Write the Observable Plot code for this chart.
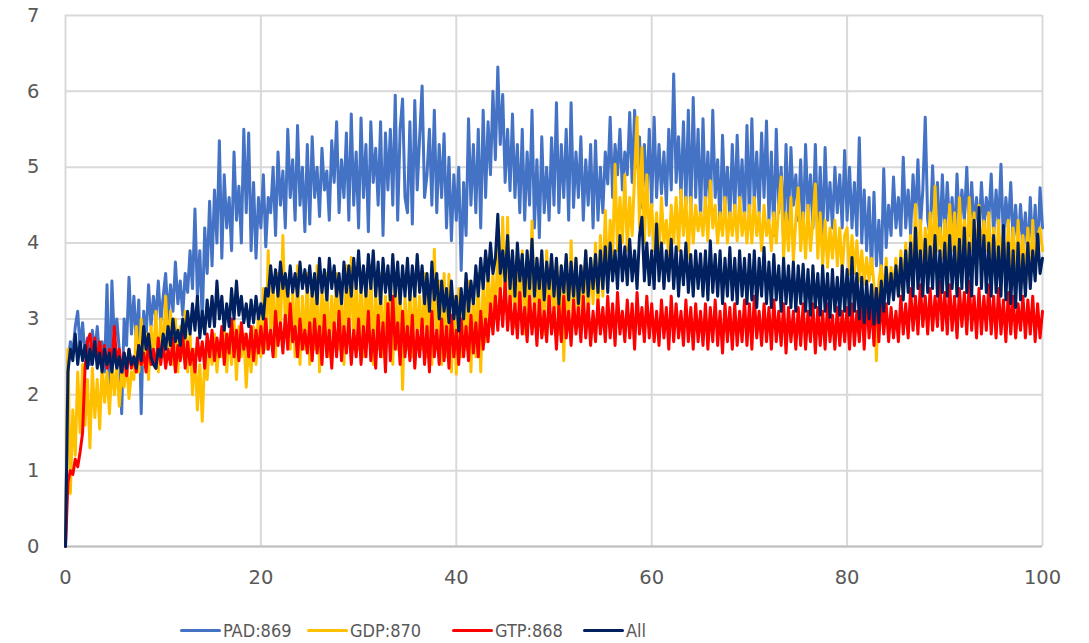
<!DOCTYPE html>
<html>
<head>
<meta charset="utf-8">
<script src="https://cdn.jsdelivr.net/npm/d3@7"></script>
<script src="https://cdn.jsdelivr.net/npm/@observablehq/plot@0.6"></script>
<style>
  html, body { margin: 0; padding: 0; background: #fff; }
  #wrap { position: relative; width: 1089px; height: 643px; }
  .leg { position: absolute; top: 618px; height: 24px; display: flex; align-items: center;
         font-family: "DejaVu Sans Condensed", "DejaVu Sans", sans-serif; font-stretch: condensed;
         font-size: 18px; color: #595959; white-space: nowrap; }
  .leg .sw { width: 41px; height: 3px; border-radius: 2px; margin-right: 2px; }
</style>
</head>
<body>
<div id="wrap"></div>
<script>
// ---- data: samples every 0.25 units of x (0..100) ----
const seriesNames = ["PAD:869", "GDP:870", "GTP:868", "All"];
const seriesColors = ["#4472C4", "#FFC000", "#FF0000", "#002060"];
const xTicks = [0, 20, 40, 60, 80, 100];
const yTicks = [0, 1, 2, 3, 4, 5, 6, 7];

const pad = [
0, 2.45, 2.7, 2.55, 2.9, 3.1, 2.6, 2.95, 2.5, 2.75, 2.4, 2.85, 2.55, 2.9, 2.45, 2.7, 2.3, 3.45, 2.0, 3.5,
2.7, 3.0, 2.6, 1.75, 3.0, 2.65, 3.55, 2.8, 3.3, 2.7, 3.25, 1.75, 3.1, 2.75, 3.45, 2.9, 3.3, 3.0, 3.5, 2.95,
3.3, 3.6, 3.0, 3.45, 3.1, 3.75, 3.2, 3.5, 3.05, 3.6, 3.35, 3.9, 3.4, 4.45, 3.3, 3.9, 2.95, 4.2, 3.6, 4.55,
3.7, 4.7, 4.0, 5.35, 3.8, 4.9, 4.2, 4.6, 3.9, 5.2, 4.3, 4.75, 4.0, 5.5, 4.4, 5.45, 3.9, 4.8, 3.8, 4.6,
4.2, 4.9, 3.95, 4.6, 4.4, 5.0, 4.1, 5.2, 4.5, 4.95, 4.2, 5.5, 4.6, 5.1, 4.3, 5.55, 4.5, 5.0, 4.15, 5.3,
4.25, 5.4, 4.6, 5.0, 4.35, 5.25, 4.7, 4.95, 4.3, 5.35, 4.8, 5.6, 4.4, 5.1, 4.6, 5.45, 4.3, 5.7, 4.5, 5.2,
4.2, 5.65, 4.6, 5.3, 4.15, 5.6, 4.8, 5.25, 4.5, 5.6, 4.1, 5.45, 4.7, 5.5, 4.5, 5.95, 4.3, 5.5, 5.9, 4.6,
4.4, 5.6, 4.25, 5.88, 4.7, 5.4, 6.07, 4.6, 4.9, 5.5, 4.5, 5.75, 4.4, 5.3, 4.6, 5.44, 4.2, 5.13, 4.03, 4.9,
4.3, 5.0, 3.64, 4.8, 4.1, 5.64, 4.5, 5.3, 4.4, 5.5, 4.2, 5.75, 4.6, 5.6, 4.9, 6.0, 5.1, 6.32, 5.3, 5.96,
4.8, 5.5, 4.69, 5.7, 4.6, 5.3, 4.4, 5.5, 4.3, 5.2, 4.5, 5.75, 4.2, 5.1, 4.07, 5.4, 4.4, 5.0, 4.3, 5.39,
4.5, 5.85, 4.4, 5.3, 4.6, 5.5, 4.3, 5.85, 4.47, 5.2, 4.6, 5.4, 4.3, 5.1, 4.5, 5.3, 4.2, 5.35, 4.3, 5.0,
4.4, 5.2, 4.78, 5.66, 4.6, 5.3, 4.9, 5.5, 4.7, 5.2, 4.9, 5.72, 4.8, 5.75, 5.0, 5.4, 4.47, 5.3, 4.6, 5.5,
4.47, 5.66, 4.6, 5.3, 4.65, 5.2, 4.5, 5.5, 4.7, 6.23, 4.8, 5.4, 4.6, 5.6, 4.5, 5.75, 4.34, 5.92, 4.6, 5.5,
4.3, 5.64, 4.5, 5.2, 4.4, 5.75, 4.6, 5.1, 4.2, 5.42, 4.5, 5.0, 4.3, 5.3, 4.4, 5.42, 4.5, 5.1, 4.3, 5.55,
4.3, 5.64, 4.5, 5.2, 4.4, 5.45, 4.6, 5.61, 4.3, 5.2, 4.1, 5.5, 4.4, 5.0, 4.07, 5.3, 4.3, 5.26, 4.5, 4.9,
4.3, 5.1, 4.1, 5.3, 4.4, 4.9, 4.2, 5.3, 4.1, 5.0, 4.07, 5.26, 4.3, 4.8, 4.2, 5.0, 4.4, 4.9, 4.2, 5.22,
4.3, 5.0, 4.2, 4.8, 4.1, 5.39, 4.0, 4.7, 3.9, 4.6, 3.6, 4.67, 3.7, 4.3, 3.6, 4.98, 3.94, 4.5, 4.1, 4.87,
4.2, 4.6, 4.1, 5.13, 4.2, 4.7, 4.12, 4.9, 4.3, 5.1, 4.2, 4.7, 5.66, 4.3, 4.1, 5.02, 4.2, 4.8, 4.0, 4.9,
4.1, 4.8, 4.2, 4.6, 4.0, 4.91, 4.2, 4.7, 4.3, 5.0, 4.1, 4.8, 4.2, 4.6, 4.1, 4.8, 4.2, 4.6, 4.3, 4.91,
4.1, 4.7, 4.2, 5.04, 4.0, 4.6, 4.2, 4.8, 4.0, 4.5, 3.9, 4.51, 4.0, 4.4, 3.81, 4.6, 3.9, 4.5, 3.8, 4.73,
4.2];

const gdp = [
0, 2.6, 0.7, 1.8, 1.2, 2.3, 1.5, 2.4, 1.6, 2.2, 1.3, 2.35, 1.7, 2.2, 1.55, 2.4, 1.9, 2.3, 1.75, 2.4,
2.0, 2.4, 1.85, 2.3, 2.1, 2.45, 1.95, 2.3, 2.2, 2.9, 2.3, 3.0, 2.4, 2.8, 2.2, 2.9, 2.5, 3.1, 2.3, 3.0,
2.5, 3.3, 2.6, 3.1, 2.4, 3.0, 2.3, 2.9, 2.5, 3.1, 2.3, 2.8, 2.0, 2.6, 1.8, 2.4, 1.65, 2.5, 2.2, 2.7,
2.4, 2.8, 2.3, 2.7, 2.5, 2.9, 2.3, 2.8, 2.4, 3.0, 2.2, 2.9, 2.5, 2.8, 2.1, 2.7, 2.3, 2.9, 2.4, 3.1,
2.5, 3.4, 2.6, 3.9, 2.7, 3.5, 2.5, 3.6, 2.8, 4.1, 2.9, 3.5, 2.6, 3.4, 2.5, 3.7, 2.4, 3.3, 2.6, 3.6,
2.4, 3.5, 2.6, 3.7, 2.3, 3.4, 2.7, 3.6, 2.5, 3.3, 2.8, 3.6, 2.6, 3.4, 2.4, 3.7, 2.7, 3.81, 2.6, 3.5,
2.6, 3.6, 2.5, 3.5, 2.7, 3.7, 2.4, 3.4, 2.6, 3.6, 2.5, 3.3, 2.7, 3.5, 2.4, 3.6, 2.6, 3.4, 2.07, 3.3,
2.6, 3.4, 2.5, 3.5, 2.7, 3.3, 2.6, 3.6, 2.5, 3.4, 2.4, 3.92, 2.6, 3.5, 2.4, 3.6, 2.5, 3.59, 2.3, 3.3,
2.27, 3.4, 2.5, 3.3, 2.6, 3.5, 2.3, 3.4, 2.5, 3.6, 2.3, 3.5, 2.7, 3.8, 2.9, 3.59, 3.0, 4.0, 3.2, 4.34,
3.1, 4.34, 3.0, 3.9, 2.9, 3.8, 3.0, 3.9, 2.8, 3.7, 3.0, 4.29, 2.9, 3.8, 3.0, 3.7, 2.8, 3.9, 3.0, 3.8,
2.9, 3.8, 2.8, 3.7, 2.45, 3.6, 2.9, 4.03, 3.0, 3.8, 2.9, 3.7, 3.1, 3.9, 3.0, 3.8, 3.2, 4.0, 3.1, 4.1,
3.3, 4.43, 3.5, 4.3, 3.8, 5.04, 3.9, 4.6, 4.0, 4.9, 3.9, 4.6, 4.1, 4.9, 5.66, 4.2, 5.26, 4.0, 4.9, 4.1,
4.51, 3.9, 4.4, 3.8, 4.6, 4.0, 4.3, 3.8, 4.5, 4.0, 4.6, 3.9, 4.7, 4.1, 4.6, 3.8, 4.6, 4.0, 4.5, 4.16,
4.4, 4.1, 4.6, 4.03, 4.82, 4.2, 4.5, 4.0, 4.4, 4.1, 4.6, 4.0, 4.4, 4.1, 4.5, 4.03, 4.6, 4.1, 4.4, 4.0,
4.5, 4.0, 4.6, 4.1, 4.4, 3.9, 4.5, 4.1, 4.3, 3.9, 4.4, 4.0, 4.5, 4.87, 3.8, 4.4, 3.9, 4.6, 3.77, 4.3,
4.73, 3.9, 4.4, 3.8, 4.5, 3.9, 4.3, 4.78, 3.8, 4.4, 3.7, 4.3, 3.68, 4.2, 3.8, 4.3, 3.7, 4.2, 3.6, 4.1,
4.2, 3.59, 4.1, 3.6, 4.03, 3.5, 3.9, 3.46, 3.81, 3.5, 3.8, 3.46, 2.45, 3.5, 3.7, 3.3, 3.8, 3.28, 3.68, 3.4,
3.8, 3.3, 3.9, 3.4, 4.0, 3.5, 4.1, 3.6, 4.51, 3.7, 4.3, 3.6, 4.2, 3.8, 4.4, 3.7, 4.75, 3.9, 4.2, 3.8,
4.3, 3.8, 4.51, 3.9, 4.4, 3.7, 4.6, 3.9, 4.3, 3.8, 4.6, 3.9, 4.4, 3.7, 4.5, 3.8, 4.29, 3.9, 4.4, 3.7,
4.2, 3.6, 4.3, 3.7, 4.1, 3.5, 4.3, 3.6, 4.2, 3.5, 4.3, 3.6, 4.1, 3.4, 4.2, 3.5, 4.3, 3.6, 4.1, 4.2,
3.9];

const gtp = [
0, 0.85, 1.0, 0.95, 1.15, 1.05, 1.25, 1.5, 2.35, 2.7, 2.8, 2.5, 2.75, 2.45, 2.7, 2.4, 2.65, 2.35, 2.6, 2.4,
2.9, 2.4, 2.6, 2.3, 2.55, 2.25, 2.6, 2.35, 2.5, 2.3, 2.65, 2.4, 2.55, 2.3, 2.7, 2.4, 2.6, 2.35, 2.75, 2.4,
2.7, 2.35, 2.6, 2.4, 2.75, 2.3, 2.65, 2.45, 2.8, 2.35, 2.7, 2.4, 2.6, 2.3, 2.75, 2.45, 2.7, 2.35, 2.8, 2.5,
2.85, 2.45, 2.75, 2.5, 2.9, 2.4, 2.8, 2.55, 3.0, 2.5, 2.85, 2.45, 2.95, 2.6, 2.8, 2.5, 2.9, 2.45, 2.85, 2.55,
2.9, 2.55, 3.0, 2.6, 2.85, 2.5, 3.1, 2.65, 2.95, 2.55, 3.05, 2.6, 3.2, 2.7, 2.9, 2.5, 3.0, 2.6, 2.85, 2.55,
2.95, 2.45, 3.0, 2.55, 2.9, 2.4, 3.05, 2.5, 2.85, 2.35, 2.95, 2.5, 3.1, 2.45, 2.9, 2.55, 3.0, 2.4, 2.85, 2.5,
3.0, 2.4, 2.9, 2.5, 3.1, 2.45, 2.85, 2.35, 3.05, 2.5, 2.95, 2.3, 3.2, 2.45, 3.3, 2.6, 2.95, 2.4, 3.1, 2.5,
2.9, 2.45, 3.05, 2.35, 2.85, 2.5, 3.0, 2.4, 2.9, 2.3, 3.1, 2.5, 2.85, 2.4, 3.0, 2.45, 2.9, 2.35, 3.05, 2.5,
2.85, 2.4, 3.0, 2.5, 2.9, 2.45, 3.05, 2.55, 2.95, 2.5, 3.1, 2.6, 3.0, 2.7, 3.2, 2.8, 3.3, 2.85, 3.4, 2.9,
3.5, 2.85, 3.3, 2.8, 3.2, 2.75, 3.35, 2.8, 3.15, 2.7, 3.3, 2.8, 3.2, 2.65, 3.25, 2.75, 3.1, 2.7, 3.3, 2.8,
3.15, 2.6, 3.2, 2.7, 3.3, 2.75, 3.1, 2.65, 3.25, 2.8, 3.15, 2.7, 3.3, 2.75, 3.2, 2.65, 3.1, 2.7, 3.25, 2.8,
3.15, 2.7, 3.3, 2.75, 3.2, 2.65, 3.35, 2.8, 3.1, 2.7, 3.25, 2.75, 3.2, 2.6, 3.35, 2.8, 3.15, 2.7, 3.3, 2.75,
3.2, 2.7, 3.1, 2.65, 3.25, 2.75, 3.15, 2.6, 3.3, 2.7, 3.2, 2.75, 3.1, 2.65, 3.25, 2.7, 3.15, 2.6, 3.2, 2.7,
3.1, 2.65, 3.2, 2.6, 3.15, 2.7, 3.25, 2.65, 3.1, 2.55, 3.2, 2.7, 3.15, 2.6, 3.2, 2.65, 3.1, 2.7, 3.25, 2.65,
3.2, 2.6, 3.3, 2.75, 3.1, 2.65, 3.2, 2.7, 3.15, 2.6, 3.25, 2.7, 3.1, 2.65, 3.2, 2.55, 3.15, 2.7, 3.1, 2.6,
3.15, 2.65, 3.2, 2.6, 3.1, 2.7, 3.2, 2.55, 3.15, 2.65, 3.1, 2.6, 3.2, 2.7, 3.05, 2.6, 3.15, 2.65, 3.1, 2.7,
3.15, 2.6, 3.2, 2.65, 3.1, 2.7, 3.25, 2.6, 3.3, 2.75, 3.2, 2.65, 3.4, 2.7, 3.3, 2.8, 3.2, 2.7, 3.15, 2.75,
3.1, 2.7, 3.3, 2.8, 3.2, 2.75, 3.4, 2.85, 3.3, 2.8, 3.45, 2.9, 3.3, 2.8, 3.4, 2.85, 3.3, 2.9, 3.5, 2.85,
3.35, 2.8, 3.45, 2.85, 3.3, 2.75, 3.4, 2.9, 3.35, 2.8, 3.5, 2.85, 3.3, 2.75, 3.4, 2.8, 3.3, 2.85, 3.45, 2.8,
3.3, 2.75, 3.4, 2.8, 3.25, 2.7, 3.35, 2.8, 3.3, 2.75, 3.2, 2.85, 3.3, 2.75, 3.25, 2.8, 3.3, 2.7, 3.2, 2.75,
3.1];

const all = [
0, 2.3, 2.6, 2.45, 2.8, 2.4, 2.7, 2.45, 2.65, 2.35, 2.6, 2.4, 2.7, 2.35, 2.55, 2.3, 2.6, 2.4, 2.55, 2.3,
2.6, 2.35, 2.5, 2.3, 2.55, 2.35, 2.6, 2.4, 2.5, 2.35, 2.65, 2.45, 2.9, 2.6, 2.8, 2.5, 2.4, 2.35, 2.6, 2.5,
2.8, 2.6, 2.9, 2.65, 3.0, 2.7, 2.85, 2.65, 3.0, 2.75, 3.1, 2.8, 3.2, 2.85, 3.3, 2.75, 3.1, 2.8, 3.25, 2.9,
3.3, 2.9, 3.5, 3.0, 3.3, 2.85, 3.2, 2.9, 3.4, 3.0, 3.5, 3.05, 3.3, 2.95, 3.2, 2.9, 3.25, 2.95, 3.3, 3.0,
3.2, 3.0, 3.4, 3.3, 3.7, 3.35, 3.65, 3.3, 3.75, 3.4, 3.6, 3.3, 3.7, 3.35, 3.6, 3.3, 3.75, 3.4, 3.65, 3.35,
3.7, 3.3, 3.6, 3.2, 3.8, 3.35, 3.65, 3.25, 3.8, 3.4, 3.7, 3.3, 3.6, 3.2, 3.75, 3.35, 3.7, 3.3, 3.8, 3.4,
3.9, 3.35, 3.7, 3.3, 3.85, 3.4, 3.9, 3.3, 3.75, 3.2, 3.8, 3.35, 3.7, 3.25, 3.85, 3.3, 3.75, 3.2, 3.7, 3.3,
3.8, 3.25, 3.7, 3.3, 3.85, 3.35, 3.7, 3.2, 3.6, 3.1, 3.75, 3.25, 3.6, 3.0, 3.5, 3.1, 3.4, 2.95, 3.5, 3.0,
3.3, 2.84, 3.4, 3.0, 3.6, 3.1, 3.5, 3.2, 3.7, 3.3, 3.8, 3.4, 3.9, 3.5, 4.0, 3.6, 3.8, 4.38, 3.6, 3.9,
3.5, 4.1, 3.4, 3.9, 3.3, 4.0, 3.5, 3.85, 3.3, 3.9, 3.4, 4.05, 3.3, 3.8, 3.4, 3.9, 3.25, 3.75, 3.4, 3.85,
3.3, 3.8, 3.2, 3.7, 3.35, 3.85, 3.25, 3.75, 3.3, 3.8, 3.2, 3.7, 3.35, 3.9, 3.3, 3.8, 3.4, 3.85, 3.35, 3.9,
3.4, 3.95, 3.35, 4.0, 3.5, 3.9, 3.4, 4.1, 3.5, 3.95, 3.45, 4.05, 3.5, 3.9, 3.4, 4.1, 4.34, 3.5, 4.0, 3.45,
3.9, 3.4, 4.25, 3.5, 4.0, 3.4, 3.9, 3.5, 4.05, 3.4, 3.95, 3.3, 3.9, 3.45, 4.0, 3.35, 3.85, 3.3, 3.9, 3.4,
3.86, 3.3, 3.9, 3.25, 4.03, 3.35, 3.85, 3.3, 3.9, 3.2, 3.8, 3.3, 3.94, 3.25, 3.8, 3.2, 3.9, 3.3, 3.8, 3.2,
3.85, 3.25, 3.9, 3.15, 3.8, 3.3, 3.94, 3.2, 3.75, 3.15, 3.85, 3.25, 3.7, 3.1, 3.8, 3.2, 3.7, 3.15, 3.75, 3.1,
3.7, 3.2, 3.72, 3.1, 3.65, 3.05, 3.7, 3.15, 3.6, 3.05, 3.7, 3.1, 3.6, 3.02, 3.65, 3.1, 3.55, 3.05, 3.7, 3.1,
3.65, 3.05, 3.81, 3.1, 3.6, 3.0, 3.55, 2.95, 3.5, 3.0, 3.45, 2.93, 3.4, 2.95, 3.5, 3.1, 3.68, 3.2, 3.6, 3.25,
3.7, 3.3, 3.8, 3.25, 3.9, 3.35, 4.0, 3.3, 4.2, 3.4, 3.9, 3.3, 4.05, 3.35, 3.95, 3.4, 4.1, 3.3, 3.9, 3.35,
4.0, 3.3, 4.1, 3.4, 3.95, 3.3, 4.05, 3.4, 4.2, 3.35, 4.0, 3.3, 4.3, 3.45, 4.47, 3.4, 4.1, 3.35, 4.0, 3.3,
4.1, 3.35, 3.95, 3.3, 4.23, 3.25, 4.0, 3.2, 3.9, 3.15, 4.0, 3.25, 3.85, 3.3, 4.0, 3.4, 3.9, 3.5, 4.12, 3.6,
3.8];

const seriesValues = [pad, gdp, gtp, all];

// ---- build tidy rows ----
function rows(values, name) {
  const n = values.length;
  return values.map((v, i) => ({x: i * 100 / (n - 1), y: v, s: name}));
}

const lineMarks = seriesValues.map((vals, k) =>
  Plot.line(rows(vals, seriesNames[k]), {
    x: "x", y: "y", stroke: seriesColors[k], strokeWidth: 3,
    strokeLinejoin: "round", strokeLinecap: "round"
  })
);

const chart = Plot.plot({
  width: 1089,
  height: 600,
  marginTop: 15,
  marginBottom: 54,
  marginLeft: 65,
  marginRight: 47,
  style: {fontFamily: "'DejaVu Sans', sans-serif", fontSize: "19.5px", color: "#595959", background: "#fff"},
  x: {domain: [0, 100]},
  y: {domain: [0, 7]},
  marks: [
    Plot.ruleY(yTicks, {stroke: "#d9d9d9", strokeWidth: 2}),
    Plot.ruleX(xTicks, {stroke: "#d9d9d9", strokeWidth: 2}),
    Plot.ruleY([0], {stroke: "#bfbfbf", strokeWidth: 2}),
    ...lineMarks,
    Plot.axisY(yTicks, {tickSize: 0, tickPadding: 26, label: null, fill: "#595959", tickFormat: d => String(d)}),
    Plot.axisX(xTicks, {tickSize: 0, tickPadding: 24, label: null, fill: "#595959", tickFormat: d => String(d)})
  ]
});

const wrap = document.getElementById("wrap");
wrap.appendChild(chart);

// ---- legend (below the svg) ----
const legendLeft = [180, 307, 452, 583];
seriesNames.forEach((name, k) => {
  const item = document.createElement("div");
  item.className = "leg";
  item.style.left = legendLeft[k] + "px";
  const sw = document.createElement("div");
  sw.className = "sw";
  sw.style.background = seriesColors[k];
  const t = document.createElement("span");
  t.textContent = name;
  item.appendChild(sw);
  item.appendChild(t);
  wrap.appendChild(item);
});
</script>
</body>
</html>
